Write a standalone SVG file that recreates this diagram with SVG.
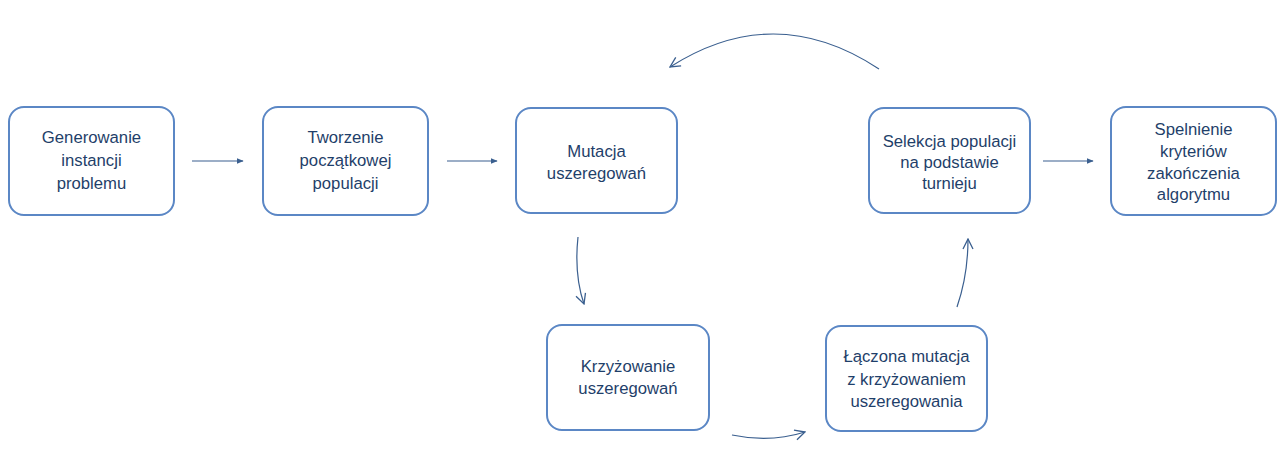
<svg xmlns="http://www.w3.org/2000/svg" width="1282" height="458" viewBox="0 0 1282 458">
<style>
.box{fill:#fff;stroke:#5b87c5;stroke-width:2}
.t{font-family:"Liberation Sans",Arial,sans-serif;font-size:16.7px;fill:#1f3f6a;text-anchor:middle}
.c{fill:none;stroke:#3a5f8f;stroke-width:1.2}
</style>
<defs>
<marker id="tri" viewBox="0 0 10 10" refX="9" refY="5" markerWidth="7" markerHeight="7" markerUnits="userSpaceOnUse" orient="auto">
<path d="M0,1 L10,5 L0,9 z" fill="#3a5f8f"/>
</marker>
<marker id="v" viewBox="0 0 12 12" refX="11" refY="6" markerWidth="12" markerHeight="12" markerUnits="userSpaceOnUse" orient="auto">
<path d="M1,1 L11,6 L1,11" fill="none" stroke="#3a5f8f" stroke-width="1.3"/>
</marker>
</defs>
<rect width="1282" height="458" fill="#fff"/>
<g id="n1"><rect class="box" x="9" y="107" width="165" height="108" rx="15"/>
<text class="t"><tspan x="91.5" y="143">Generowanie</tspan><tspan x="91.5" y="166">instancji</tspan><tspan x="91.5" y="189">problemu</tspan></text></g>
<g id="n2"><rect class="box" x="263" y="107" width="165" height="108" rx="15"/>
<text class="t"><tspan x="345.5" y="143">Tworzenie</tspan><tspan x="345.5" y="166">początkowej</tspan><tspan x="345.5" y="189">populacji</tspan></text></g>
<g id="n3"><rect class="box" x="516" y="108" width="161" height="105" rx="15"/>
<text class="t"><tspan x="596.5" y="157">Mutacja</tspan><tspan x="596.5" y="179">uszeregowań</tspan></text></g>
<g id="n4"><rect class="box" x="869" y="108" width="161" height="105" rx="15"/>
<text class="t"><tspan x="949.5" y="147">Selekcja populacji</tspan><tspan x="949.5" y="168">na podstawie</tspan><tspan x="949.5" y="189">turnieju</tspan></text></g>
<g id="n5"><rect class="box" x="1111" y="107" width="165" height="108" rx="15"/>
<text class="t"><tspan x="1193.5" y="135">Spelnienie</tspan><tspan x="1193.5" y="157">kryteriów</tspan><tspan x="1193.5" y="179">zakończenia</tspan><tspan x="1193.5" y="200">algorytmu</tspan></text></g>
<g id="n6"><rect class="box" x="547" y="325" width="162" height="105" rx="15"/>
<text class="t"><tspan x="628" y="372">Krzyżowanie</tspan><tspan x="628" y="394">uszeregowań</tspan></text></g>
<g id="n7"><rect class="box" x="826" y="326" width="161" height="105" rx="15"/>
<text class="t"><tspan x="906.5" y="362">Łączona mutacja</tspan><tspan x="906.5" y="385">z krzyżowaniem</tspan><tspan x="906.5" y="407">uszeregowania</tspan></text></g>
<g id="connectors">
<line class="c" x1="192" y1="161" x2="243" y2="161" marker-end="url(#tri)"/>
<line class="c" x1="447" y1="161" x2="497" y2="161" marker-end="url(#tri)"/>
<line class="c" x1="1043" y1="161" x2="1093" y2="161" marker-end="url(#tri)"/>
<path class="c" d="M879,69 Q775,0 670,67" marker-end="url(#v)"/>
<path class="c" d="M578,237 Q574,275 584,304" marker-end="url(#v)"/>
<path class="c" d="M732,435 Q770,443 805,432" marker-end="url(#v)"/>
<path class="c" d="M957,307 Q968,275 968,239" marker-end="url(#v)"/>
</g>
</svg>
